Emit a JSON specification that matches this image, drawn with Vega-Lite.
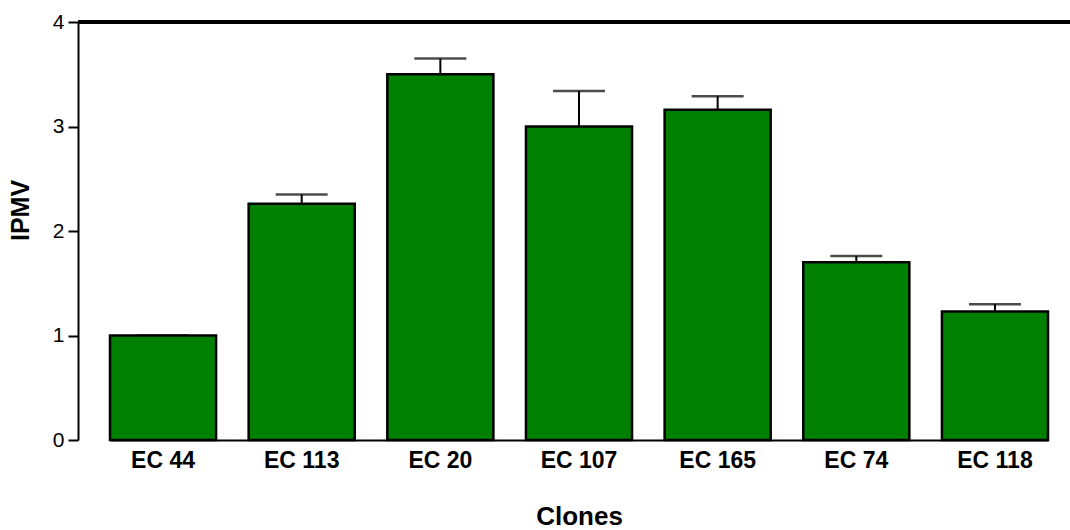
{
  "$schema": "https://vega.github.io/schema/vega-lite/v6.json",
  "autosize": "none",
  "width": 992,
  "height": 418,
  "padding": {"left": 78, "top": 22, "right": 0, "bottom": 90},
  "background": "white",
  "config": {
    "view": {"stroke": null},
    "font": "Liberation Sans"
  },
  "data": {
    "values": [
      {"clone": "EC 44", "value": 1.0, "upper": 1.0},
      {"clone": "EC 113", "value": 2.26, "upper": 2.35},
      {"clone": "EC 20", "value": 3.5, "upper": 3.65},
      {"clone": "EC 107", "value": 3.0, "upper": 3.34},
      {"clone": "EC 165", "value": 3.16, "upper": 3.29},
      {"clone": "EC 74", "value": 1.7, "upper": 1.76},
      {"clone": "EC 118", "value": 1.23, "upper": 1.3}
    ]
  },
  "layer": [
    {
      "mark": {"type": "rule", "color": "black", "strokeWidth": 2},
      "encoding": {
        "x": {
          "field": "clone",
          "type": "nominal",
          "sort": null,
          "scale": {"range": [32, 970], "paddingInner": 0.235, "paddingOuter": 0},
          "axis": {
            "title": "Clones",
            "titleFontSize": 26,
            "titleFontWeight": "bold",
            "titleColor": "black",
            "titlePadding": 31,
            "labelFontSize": 23,
            "labelFontWeight": "bold",
            "labelColor": "black",
            "labelAngle": 0,
            "labelPadding": 9,
            "ticks": false,
            "domainColor": "black",
            "domainWidth": 2
          }
        },
        "y": {
          "field": "value",
          "type": "quantitative",
          "scale": {"domain": [0, 4], "nice": false, "zero": true},
          "axis": {
            "title": "IPMV",
            "values": [0, 1, 2, 3, 4],
            "format": "d",
            "titleFontSize": 25,
            "titleFontWeight": "bold",
            "titleColor": "black",
            "titlePadding": 19,
            "titleY": 188,
            "labelFontSize": 21,
            "labelColor": "black",
            "labelPadding": 4,
            "tickSize": 10,
            "tickColor": "black",
            "tickWidth": 2,
            "domainColor": "black",
            "domainWidth": 2,
            "grid": false
          }
        },
        "y2": {"field": "upper"}
      }
    },
    {
      "mark": {"type": "tick", "color": "black", "thickness": 2.5, "size": 52, "orient": "horizontal"},
      "encoding": {
        "x": {"field": "clone", "type": "nominal", "sort": null},
        "y": {"field": "upper", "type": "quantitative"}
      }
    },
    {
      "mark": {"type": "bar", "color": "#008000", "stroke": "black", "strokeWidth": 2.5},
      "encoding": {
        "x": {"field": "clone", "type": "nominal", "sort": null},
        "y": {"field": "value", "type": "quantitative"}
      }
    },
    {
      "mark": {"type": "rule", "color": "black", "strokeWidth": 3},
      "encoding": {
        "y": {"datum": 4}
      }
    }
  ]
}
